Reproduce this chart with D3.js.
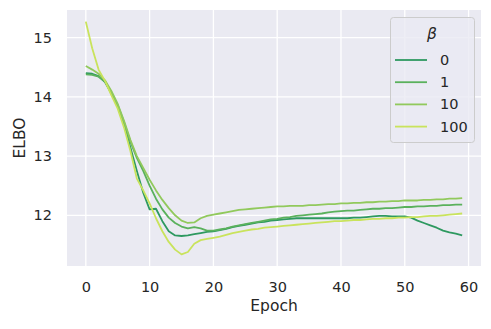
<!DOCTYPE html>
<html>
<head>
<meta charset="utf-8">
<script src="https://cdn.jsdelivr.net/npm/d3@7"></script>
<style>
  body { margin: 0; background: #fff; }
  svg text { font-family: "DejaVu Sans", sans-serif; fill: #262626; }
</style>
</head>
<body>
<div class="chart-holder"></div>
<script>
// epochs on the x axis
const epochs = d3.range(60);

const betaLabels = ['0', '1', '10', '100'];
const colors = ['#2e9960', '#5ab15c', '#91c95c', '#c9e35c'];

const elbo0 = [
  14.40, 14.39, 14.35, 14.25, 14.06, 13.84, 13.52, 13.14, 12.75, 12.38,
  12.10, 12.11, 11.90, 11.73, 11.66, 11.65, 11.66, 11.68, 11.70, 11.72,
  11.73, 11.75, 11.77, 11.80, 11.82, 11.84, 11.86, 11.88, 11.89, 11.91,
  11.92, 11.93, 11.94, 11.95, 11.95, 11.95, 11.95, 11.95, 11.95, 11.95,
  11.95, 11.95, 11.96, 11.96, 11.97, 11.98, 11.99, 11.99, 11.98, 11.98,
  11.98, 11.96, 11.91, 11.87, 11.83, 11.79, 11.74, 11.71, 11.69, 11.66
];
const elbo1 = [
  14.38, 14.37, 14.34, 14.26, 14.08, 13.86, 13.57, 13.24, 12.97, 12.75,
  12.50, 12.28, 12.10, 11.96, 11.87, 11.81, 11.78, 11.80, 11.78, 11.74,
  11.74, 11.76, 11.78, 11.81, 11.83, 11.85, 11.87, 11.89, 11.91, 11.93,
  11.94, 11.96, 11.97, 11.99, 12.00, 12.01, 12.02, 12.03, 12.05, 12.06,
  12.07, 12.08, 12.08, 12.09, 12.10, 12.11, 12.11, 12.12, 12.12, 12.13,
  12.14, 12.14, 12.15, 12.15, 12.16, 12.16, 12.17, 12.17, 12.18, 12.18
];
const elbo10 = [
  14.52, 14.46, 14.39, 14.28, 14.10, 13.88, 13.59, 13.27, 13.00, 12.80,
  12.60, 12.42, 12.26, 12.12, 12.00, 11.91, 11.87, 11.88, 11.95, 11.99,
  12.01, 12.03, 12.05, 12.07, 12.09, 12.10, 12.11, 12.12, 12.13, 12.14,
  12.15, 12.15, 12.16, 12.16, 12.16, 12.17, 12.17, 12.18, 12.19, 12.19,
  12.20, 12.20, 12.21, 12.21, 12.22, 12.22, 12.23, 12.23, 12.24, 12.24,
  12.25, 12.25, 12.25, 12.26, 12.26, 12.27, 12.27, 12.28, 12.28, 12.29
];
const elbo100 = [
  15.27, 14.82, 14.46, 14.27, 14.03, 13.80, 13.48, 13.08, 12.62, 12.42,
  12.20, 11.95, 11.73, 11.55, 11.42, 11.34, 11.38, 11.52, 11.58, 11.60,
  11.62, 11.64, 11.67, 11.70, 11.72, 11.74, 11.76, 11.77, 11.79, 11.80,
  11.81, 11.82, 11.83, 11.84, 11.85, 11.86, 11.87, 11.88, 11.89, 11.90,
  11.90, 11.91, 11.92, 11.92, 11.93, 11.94, 11.94, 11.95, 11.95, 11.96,
  11.96, 11.97, 11.97, 11.98, 11.99, 11.99, 12.00, 12.01, 12.02, 12.03
];

const xTicks = [0, 10, 20, 30, 40, 50, 60];
const yTicks = [12, 13, 14, 15];

const series = [elbo0, elbo1, elbo10, elbo100];

const margin = {top: 10, right: 10, bottom: 63, left: 67};
const width = 491, height = 329;
const w = width - margin.left - margin.right;
const h = height - margin.top - margin.bottom;

const svg = d3.select('.chart-holder')
  .append('svg')
  .attr('width', width)
  .attr('height', height);

const g = svg.append('g')
  .attr('transform', `translate(${margin.left},${margin.top})`);

// matplotlib style 5% padding around the data
const xExt = d3.extent(epochs);
const xPad = (xExt[1] - xExt[0]) * 0.05;
const allVals = series.flat();
const yExt = d3.extent(allVals);
const yPad = (yExt[1] - yExt[0]) * 0.05;

const xScale = d3.scaleLinear()
  .domain([xExt[0] - xPad, xExt[1] + xPad])
  .range([0, w]);
const yScale = d3.scaleLinear()
  .domain([yExt[0] - yPad, yExt[1] + yPad])
  .range([h, 0]);

g.append('rect')
  .attr('width', w)
  .attr('height', h)
  .attr('fill', '#eaeaf2');

// gridlines
g.append('g')
  .selectAll('line')
  .data(xTicks)
  .enter().append('line')
    .attr('x1', d => xScale(d)).attr('x2', d => xScale(d))
    .attr('y1', 0).attr('y2', h)
    .attr('stroke', '#fff').attr('stroke-width', 1.3);
g.append('g')
  .selectAll('line')
  .data(yTicks)
  .enter().append('line')
    .attr('x1', 0).attr('x2', w)
    .attr('y1', d => yScale(d)).attr('y2', d => yScale(d))
    .attr('stroke', '#fff').attr('stroke-width', 1.3);

// axes (no tick marks, darkgrid look)
const xAxis = g.append('g')
  .attr('transform', `translate(0,${h})`)
  .call(d3.axisBottom(xScale).tickValues(xTicks).tickFormat(d3.format('d'))
    .tickSize(0).tickPadding(16));
const yAxis = g.append('g')
  .call(d3.axisLeft(yScale).tickValues(yTicks).tickFormat(d3.format('d'))
    .tickSize(0).tickPadding(15));
[xAxis, yAxis].forEach(a => {
  a.select('.domain').remove();
  a.selectAll('text').attr('font-size', 14.5).attr('fill', '#262626')
    .attr('font-family', 'DejaVu Sans');
});

const line = d3.line()
  .x((d, i) => xScale(epochs[i]))
  .y(d => yScale(d));

g.selectAll('.series')
  .data(series)
  .enter().append('path')
    .attr('class', 'series')
    .attr('d', d => line(d))
    .attr('fill', 'none')
    .attr('stroke', (d, i) => colors[i])
    .attr('stroke-width', 1.8)
    .attr('stroke-linejoin', 'round');

// axis labels
svg.append('text')
  .attr('x', margin.left + w / 2)
  .attr('y', 311)
  .attr('text-anchor', 'middle')
  .attr('font-size', 15.5)
  .text('Epoch');
svg.append('text')
  .attr('transform', `translate(25,${margin.top + h / 2}) rotate(-90)`)
  .attr('text-anchor', 'middle')
  .attr('font-size', 15.5)
  .text('ELBO');

// legend
const legend = svg.append('g');
legend.append('rect')
  .attr('x', 390.5).attr('y', 17.5)
  .attr('width', 84).attr('height', 125)
  .attr('rx', 3)
  .attr('fill', '#eaeaf2').attr('fill-opacity', 0.8)
  .attr('stroke', '#cccccc').attr('stroke-width', 1);
legend.append('text')
  .attr('x', 432).attr('y', 39)
  .attr('text-anchor', 'middle')
  .attr('font-size', 15.5)
  .attr('font-style', 'italic')
  .text('β');
const item = legend.selectAll('.item')
  .data(betaLabels)
  .enter().append('g')
    .attr('transform', (d, i) => `translate(0,${60 + i * 22.2})`);
item.append('line')
  .attr('x1', 395).attr('x2', 427)
  .attr('stroke', (d, i) => colors[i])
  .attr('stroke-width', 1.8);
item.append('text')
  .attr('x', 440).attr('y', 5)
  .attr('font-size', 14.5)
  .text(d => d);
</script>
</body>
</html>
